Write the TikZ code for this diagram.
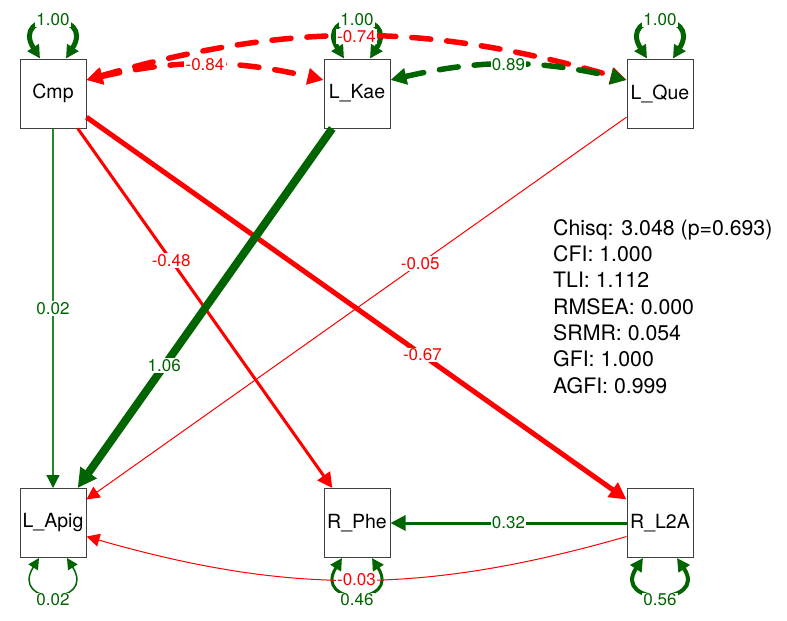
\documentclass[tikz,border=0pt]{standalone}
\usepackage{fontspec}
\setmainfont{TeX Gyre Heros}
\usetikzlibrary{arrows.meta}
\definecolor{sgreen}{RGB}{0,100,0}
\definecolor{fgreen}{RGB}{40,135,40}
\definecolor{sred}{RGB}{255,0,0}
\begin{document}
\begin{tikzpicture}[x=1pt,y=-1pt,
  var/.style={draw=black!75, line width=1pt, minimum width=66pt, minimum height=69pt, inner sep=0pt, fill=white, font=\fontsize{19.5}{20}\selectfont},
  elab/.style={fill=white, inner sep=1.2pt, font=\fontsize{17}{18}\selectfont},
  fitlab/.style={anchor=base west, inner sep=0pt, font=\fontsize{21.3}{24}\selectfont},
  arr/.style={-{Triangle[length=#1,width=#1]}},
  darr/.style={{Triangle[length=#1,width=#1]}-{Triangle[length=#1,width=#1]}},
  loopline/.style={sgreen, darr=#1},
  covline/.style={line cap=round, dash pattern=on 19pt off 16pt, darr=16pt}
]
\useasboundingbox (0,0) rectangle (787,621);

% variables
\node[var] (Cmp)  at (53,93.5)  {Cmp};
\node[var] (LKae) at (357,93.5) {L\_Kae};
\node[var] (LQue) at (660,93.5) {L\_Que};
\node[var] (LApig) at (53,523)  {L\_Apig};
\node[var] (RPhe) at (357,523)  {R\_Phe};
\node[var] (RL2A) at (660,523)  {R\_L2A};

% variances (loops)
\draw[loopline=13pt, line width=5pt] ([xshift=-13pt]Cmp.north) .. controls +(-30,-48) and +(30,-48) .. node[pos=0.5, elab, text=sgreen, yshift=3pt] {1.00} ([xshift=13pt]Cmp.north);
\draw[loopline=13pt, line width=5pt] ([xshift=-13pt]LKae.north) .. controls +(-30,-48) and +(30,-48) .. node[pos=0.5, elab, text=sgreen, yshift=3pt] {1.00} ([xshift=13pt]LKae.north);
\draw[loopline=13pt, line width=5pt] ([xshift=-13pt]LQue.north) .. controls +(-30,-48) and +(30,-48) .. node[pos=0.5, elab, text=sgreen, yshift=3pt] {1.00} ([xshift=13pt]LQue.north);
\draw[loopline=11pt, line width=1.5pt] ([xshift=-14pt]LApig.south) .. controls +(-30,48) and +(30,48) .. node[pos=0.5, elab, text=sgreen, yshift=-6pt] {0.02} ([xshift=14pt]LApig.south);
\draw[loopline=12pt, line width=3pt] ([xshift=-15pt]RPhe.south) .. controls +(-30,48) and +(30,48) .. node[pos=0.5, elab, text=sgreen, yshift=-6pt] {0.46} ([xshift=15pt]RPhe.south);
\draw[loopline=13pt, line width=4pt] ([xshift=-17pt]RL2A.south) .. controls +(-32,48) and +(32,48) .. node[pos=0.5, elab, text=sgreen, yshift=-6pt] {0.56} ([xshift=17pt]RL2A.south);

% regressions
\draw[fgreen, line width=1.3pt, -{Triangle[length=13pt,width=13pt,color=sgreen]}] (Cmp) -- node[elab, text=sgreen, pos=0.5] {0.02} (LApig);
\draw[sred, line width=3pt, arr=15pt] (Cmp) -- node[elab, text=sred, pos=0.367] {-0.48} (RPhe);
\draw[sred, line width=5pt, arr=17pt] (Cmp) -- node[elab, text=sred, pos=0.622] {-0.67} (RL2A);
\draw[sred, line width=1pt, arr=13pt] (LQue) -- node[elab, text=sred, pos=0.382] {-0.05} (LApig);
\draw[sgreen, line width=8pt, arr=19pt] (LKae) -- node[elab, text=sgreen, pos=0.66] {1.06} (LApig);
\draw[sgreen, line width=3pt, arr=15pt] (RL2A) -- node[elab, text=sgreen, pos=0.5] {0.32} (RPhe);
\draw[sred, line width=1pt, arr=13pt] (RL2A.202) to[bend left=16] node[elab, text=sred] {-0.03} (LApig.338);

% covariances
\draw[sred, line width=5.5pt, covline] (Cmp.22) to[bend left=13] node[elab, text=sred] {-0.84} (LKae.158);
\draw[sred, line width=5.5pt, covline] (Cmp.22) to[bend left=16] node[elab, text=sred] {-0.74} (LQue.158);
\draw[sgreen, line width=5.5pt, covline] (LKae.22) to[bend left=13] node[elab, text=sgreen] {0.89} (LQue.158);

% fit statistics
\node[fitlab] (fit1) at (553,235)   {Chisq: 3.048 (p=0.693)};
\node[fitlab] (fit2) at (553,261.3) {CFI: 1.000};
\node[fitlab] (fit3) at (553,287.7) {TLI: 1.112};
\node[fitlab] (fit4) at (553,314)   {RMSEA: 0.000};
\node[fitlab] (fit5) at (553,340.3) {SRMR: 0.054};
\node[fitlab] (fit6) at (553,366.7) {GFI: 1.000};
\node[fitlab] (fit7) at (553,393)   {AGFI: 0.999};
\end{tikzpicture}
\end{document}
